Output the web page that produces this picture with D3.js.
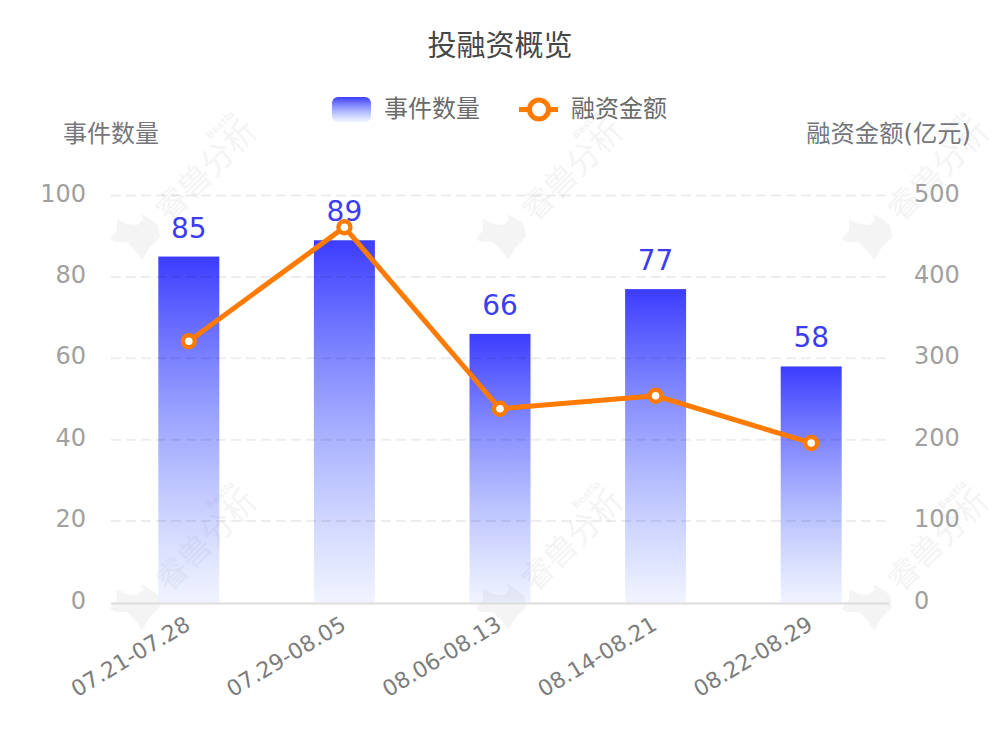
<!DOCTYPE html>
<html>
<head>
<meta charset="utf-8">
<script src="https://cdn.jsdelivr.net/npm/d3@7"></script>
<style>
html, body { margin: 0; padding: 0; background: #fff; }
svg { display: block; }
text { font-family: "DejaVu Sans", "Noto Sans CJK SC", sans-serif; }
</style>
</head>
<body>
<svg id="chart" width="1000" height="732"></svg>
<script>
const periods = ["07.21-07.28", "07.29-08.05", "08.06-08.13", "08.14-08.21", "08.22-08.29"];
const eventCounts = [85, 89, 66, 77, 58];
const financing = [321, 461, 238, 254, 196];
const leftTicks = [0, 20, 40, 60, 80, 100];
const rightTicks = [0, 100, 200, 300, 400, 500];

const svg = d3.select("#chart");
const plotLeft = 111, plotRight = 889, plotTop = 195.5, plotBottom = 602.5;

const x = d3.scaleBand().domain(periods).range([plotLeft, plotRight]);
const yLeft = d3.scaleLinear().domain([0, 100]).range([plotBottom, plotTop]);
const yRight = d3.scaleLinear().domain([0, 500]).range([plotBottom, plotTop]);
const barWidth = 61;

const defs = svg.append("defs");
const grad = defs.append("linearGradient")
    .attr("id", "barFill")
    .attr("x1", 0).attr("y1", 0).attr("x2", 0).attr("y2", 1);
grad.append("stop").attr("offset", "0%").attr("stop-color", "#3c3cff");
grad.append("stop").attr("offset", "100%").attr("stop-color", "#6f8cff").attr("stop-opacity", 0.1);

// Watermark, repeated on a grid behind the chart
const markPositions = [[214, 178], [580, 178], [946, 178], [214, 548], [580, 548], [946, 548]];
const beast = "M-25 2L-18 -7L-18 -18L-8 -13L2 -12L8 -17L6 -23L15 -18L23 -12L25 0L15 10L7 23L0 13L-8 5L-20 5Z";
const mark = svg.append("g").attr("class", "watermark");
markPositions.forEach(p => {
    const g = mark.append("g").attr("transform", `translate(${p[0]},${p[1]}) rotate(-45)`);
    g.append("text").attr("text-anchor", "middle").attr("font-size", 32)
        .attr("fill", "#f4f4f4").text("睿兽分析");
    g.append("text").attr("x", 42).attr("y", -30).attr("text-anchor", "middle")
        .attr("font-size", 10).attr("font-weight", "bold").attr("fill", "#f4f4f4").text("Bestla");
    mark.append("path")
        .attr("transform", `translate(${p[0] - 79},${p[1] + 59})`)
        .attr("d", beast)
        .attr("fill", "#f4f4f4");
});

// Bars
svg.append("g").selectAll("rect")
    .data(eventCounts)
    .join("rect")
    .attr("x", (d, i) => x(periods[i]) + x.bandwidth() / 2 - barWidth / 2)
    .attr("y", d => yLeft(d))
    .attr("width", barWidth)
    .attr("height", d => plotBottom - yLeft(d))
    .attr("fill", "url(#barFill)");

// Gridlines, faintly visible over the bars
svg.append("g").selectAll("line")
    .data(leftTicks.slice(1))
    .join("line")
    .attr("x1", plotLeft).attr("x2", plotRight)
    .attr("y1", d => yLeft(d)).attr("y2", d => yLeft(d))
    .attr("stroke", "#000").attr("stroke-opacity", 0.07).attr("stroke-width", 2)
    .attr("stroke-dasharray", "10 5");

// Baseline
svg.append("line")
    .attr("x1", plotLeft).attr("x2", plotRight)
    .attr("y1", plotBottom + 1).attr("y2", plotBottom + 1)
    .attr("stroke", "#dcdcdc").attr("stroke-width", 2);

// Left axis labels
svg.append("g").selectAll("text")
    .data(leftTicks)
    .join("text")
    .attr("x", 86)
    .attr("y", d => yLeft(d))
    .attr("dy", "0.25em")
    .attr("text-anchor", "end")
    .attr("font-size", 24)
    .attr("fill", "#a0a0a0")
    .text(d => d);

// Right axis labels
svg.append("g").selectAll("text")
    .data(rightTicks)
    .join("text")
    .attr("x", 914)
    .attr("y", d => yRight(d))
    .attr("dy", "0.25em")
    .attr("font-size", 24)
    .attr("fill", "#a0a0a0")
    .text(d => d);

// Category labels
svg.append("g").selectAll("text")
    .data(periods)
    .join("text")
    .attr("transform", d => `translate(${x(d) + x.bandwidth() / 2 + 3},${plotBottom + 26}) rotate(-31)`)
    .attr("text-anchor", "end")
    .attr("font-size", 22)
    .attr("fill", "#7c7c7c")
    .text(d => d);

// Bar value labels
svg.append("g").selectAll("text")
    .data(eventCounts)
    .join("text")
    .attr("x", (d, i) => x(periods[i]) + x.bandwidth() / 2)
    .attr("y", d => yLeft(d) - 19)
    .attr("text-anchor", "middle")
    .attr("font-size", 28)
    .attr("fill", "#3c3cf0")
    .text(d => d);

// Line series
const line = d3.line()
    .x((d, i) => x(periods[i]) + x.bandwidth() / 2)
    .y(d => yRight(d));

svg.append("path")
    .datum(financing)
    .attr("d", line)
    .attr("fill", "none")
    .attr("stroke", "#ff7a00")
    .attr("stroke-width", 5);

svg.append("g").selectAll("circle")
    .data(financing)
    .join("circle")
    .attr("cx", (d, i) => x(periods[i]) + x.bandwidth() / 2)
    .attr("cy", d => yRight(d))
    .attr("r", 6)
    .attr("fill", "#fff")
    .attr("stroke", "#ff7a00")
    .attr("stroke-width", 4.4);

// Title and axis names
svg.append("text").attr("x", 500).attr("y", 56).attr("text-anchor", "middle")
    .attr("font-size", 29).attr("fill", "#464646").text("投融资概览");
svg.append("text").attr("x", 63).attr("y", 142)
    .attr("font-size", 24).attr("fill", "#74767c").text("事件数量");
svg.append("text").attr("x", 971).attr("y", 142).attr("text-anchor", "end")
    .attr("font-size", 24.3).attr("fill", "#74767c").text("融资金额(亿元)");

// Legend
svg.append("rect").attr("x", 332).attr("y", 97).attr("width", 39).attr("height", 25)
    .attr("rx", 6).attr("fill", "url(#barFill)");
svg.append("text").attr("x", 384).attr("y", 117)
    .attr("font-size", 24).attr("fill", "#6a6a6a").text("事件数量");
svg.append("line").attr("x1", 519).attr("x2", 558).attr("y1", 109.5).attr("y2", 109.5)
    .attr("stroke", "#ff7a00").attr("stroke-width", 5);
svg.append("circle").attr("cx", 539).attr("cy", 109.5).attr("r", 9.5)
    .attr("fill", "#fff").attr("stroke", "#ff7a00").attr("stroke-width", 5);
svg.append("text").attr("x", 571).attr("y", 117)
    .attr("font-size", 24).attr("fill", "#6a6a6a").text("融资金额");
</script>
</body>
</html>
